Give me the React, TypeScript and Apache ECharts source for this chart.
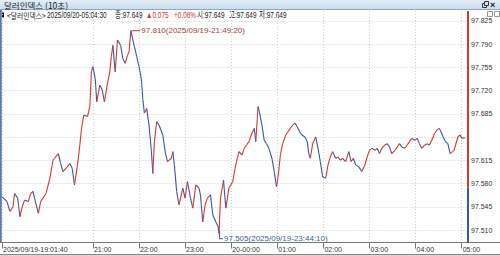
import React, { useEffect, useRef } from "react";
import * as echarts from "echarts";

const tradeDate = "2025/09/19";
const titleText = "달러인덱스 (10초)";
const instrument = "<달러인덱스>";
const lastStamp = "2025/09/20-05:04:30";
const prevClose = 97.574;

const times = [
  "19:01:40", "19:08", "19:12", "19:16", "19:18", "19:22", "19:25", "19:28", "19:31", "19:36", "19:39", "19:42", "19:44", "19:49", "19:52", "19:55", "19:59",
  "20:04", "20:08", "20:10", "20:15", "20:18", "20:21", "20:25", "20:30", "20:33", "20:36", "20:40", "20:43", "20:45", "20:48", "20:53", "20:56", "20:58",
  "21:00", "21:03", "21:05", "21:09", "21:12", "21:15", "21:19", "21:22", "21:24", "21:26", "21:29", "21:32", "21:36", "21:39", "21:42", "21:45", "21:47", "21:49:20", "21:54", "21:57",
  "22:00", "22:03", "22:05", "22:07", "22:10", "22:13", "22:16", "22:18", "22:20", "22:23", "22:26", "22:31", "22:34", "22:37", "22:42", "22:44", "22:46", "22:49", "22:52", "22:57",
  "23:00", "23:03", "23:07", "23:10", "23:14", "23:18", "23:20", "23:23", "23:26", "23:29", "23:33", "23:36", "23:40", "23:43", "23:44:10", "23:46", "23:50", "23:53", "23:57",
  "00:02", "00:05", "00:08", "00:10", "00:14", "00:17", "00:20", "00:23", "00:27", "00:30", "00:32", "00:35", "00:37", "00:40", "00:43", "00:46", "00:49", "00:53", "00:56", "00:59",
  "01:01", "01:04", "01:07", "01:11", "01:14", "01:17", "01:20", "01:23", "01:26", "01:29", "01:32", "01:36", "01:39", "01:41", "01:43", "01:46", "01:50", "01:53", "01:56", "01:59",
  "02:03", "02:06", "02:09", "02:12", "02:16", "02:19", "02:22", "02:25", "02:29", "02:33", "02:36", "02:39", "02:42", "02:46", "02:50", "02:54", "02:57",
  "03:00", "03:03", "03:07", "03:10", "03:13", "03:16", "03:20", "03:23", "03:26", "03:29", "03:33", "03:36", "03:39", "03:42", "03:46", "03:49", "03:52", "03:55", "03:59",
  "04:02", "04:05", "04:08", "04:12", "04:15", "04:18", "04:21", "04:25", "04:28", "04:31", "04:33", "04:36", "04:39", "04:42", "04:45", "04:48", "04:50", "04:52", "04:55", "04:58",
  "05:00", "05:04:30",
];

const closes = [
  97.560, 97.553, 97.538, 97.545, 97.565, 97.558, 97.530, 97.545, 97.555, 97.553, 97.565, 97.568, 97.558, 97.535, 97.553, 97.558, 97.565,
  97.588, 97.615, 97.618, 97.625, 97.610, 97.598, 97.603, 97.610, 97.603, 97.578, 97.608, 97.638, 97.661, 97.683, 97.681, 97.696, 97.748,
  97.756, 97.738, 97.703, 97.728, 97.721, 97.703, 97.731, 97.748, 97.771, 97.788, 97.748, 97.796, 97.788, 97.768, 97.761, 97.773, 97.778, 97.810, 97.786, 97.771,
  97.756, 97.738, 97.706, 97.686, 97.693, 97.668, 97.630, 97.595, 97.643, 97.673, 97.668, 97.653, 97.628, 97.613, 97.618, 97.628, 97.608, 97.568, 97.548, 97.573,
  97.558, 97.583, 97.558, 97.543, 97.578, 97.573, 97.563, 97.522, 97.548, 97.558, 97.563, 97.533, 97.522, 97.515, 97.505, 97.558, 97.585, 97.543, 97.573,
  97.583, 97.603, 97.618, 97.628, 97.623, 97.633, 97.638, 97.643, 97.656, 97.663, 97.643, 97.696, 97.686, 97.668, 97.645, 97.640, 97.633, 97.618, 97.598, 97.575,
  97.590, 97.623, 97.640, 97.653, 97.658, 97.663, 97.668, 97.671, 97.665, 97.658, 97.653, 97.650, 97.643, 97.625, 97.618, 97.640, 97.650, 97.633, 97.613, 97.590,
  97.588, 97.608, 97.620, 97.628, 97.618, 97.620, 97.615, 97.618, 97.613, 97.628, 97.613, 97.618, 97.608, 97.605, 97.598, 97.608, 97.620,
  97.630, 97.633, 97.630, 97.633, 97.625, 97.633, 97.638, 97.640, 97.635, 97.625, 97.630, 97.635, 97.640, 97.635, 97.633, 97.638, 97.643, 97.648, 97.645,
  97.648, 97.640, 97.633, 97.638, 97.640, 97.638, 97.645, 97.656, 97.661, 97.663, 97.658, 97.650, 97.643, 97.640, 97.625, 97.628, 97.630, 97.638, 97.650, 97.653,
  97.648, 97.649,
];

const tickTimes = ["19:01:40", "21:00", "22:00", "23:00", "00:00", "01:00", "02:00", "03:00", "04:00", "05:00"];
const tickLabels = ["2025/09/19-19:01:40", "21:00", "22:00", "23:00", "20-00:00", "01:00", "02:00", "03:00", "04:00", "05:00"];
const priceTicks = [97.51, 97.545, 97.58, 97.615, 97.65, 97.685, 97.72, 97.755, 97.79, 97.825];
const priceLabels = [97.51, 97.545, 97.58, 97.615, 97.685, 97.72, 97.755, 97.79, 97.825];

const UP = "#d4392e";
const DOWN = "#3658a6";
const LAT = "'Liberation Sans', Arial, 'Noto Sans CJK KR', sans-serif";
const KR = "'Noto Sans CJK KR', 'Liberation Sans', sans-serif";

function toMin(t: string): number {
  const [h, m, s = 0] = t.split(":").map(Number);
  const hh = h < 19 ? h + 24 : h;
  return (hh - 19) * 60 + m + s / 60;
}

export default function App() {
  const ref = useRef<HTMLDivElement>(null);

  useEffect(() => {
    if (!ref.current) return;
    const chart = echarts.init(ref.current, undefined, { renderer: "svg" });

    const xMin = 1.0;
    const xMax = 608.2;
    const yMin = 97.4912;
    const yMax = 97.8397;

    const segData = times.map((t, i) => [
      toMin(i > 0 ? times[i - 1] : t),
      toMin(t),
      i > 0 ? closes[i - 1] : closes[i],
      closes[i],
    ]);
    const lineData = times.map((t, i) => [toMin(t), closes[i]]);

    let maxI = 0, minI = 0;
    closes.forEach((v, i) => {
      if (v > closes[maxI]) maxI = i;
      if (v < closes[minI]) minI = i;
    });
    const last = closes[closes.length - 1];
    const change = last - prevClose;
    const pct = (change / prevClose) * 100;
    const lastStr = last.toFixed(3);

    const tickMins = tickTimes.map(toMin);
    const labelFor = (v: number) => {
      let best = 0;
      tickMins.forEach((m, i) => {
        if (Math.abs(m - v) < Math.abs(tickMins[best] - v)) best = i;
      });
      return tickLabels[best];
    };

    const header = [
      { x: 7, text: instrument, color: "#222", font: KR, size: 8.5, sx: 0.8 },
      { x: 47, text: lastStamp, color: "#222", font: LAT, size: 9, sx: 0.72 },
      { x: 115, text: "종:" + lastStr, color: "#222", font: LAT, size: 9, sx: 0.72 },
      { x: 146, text: "▲" + change.toFixed(3), color: UP, font: LAT, size: 9, sx: 0.72 },
      { x: 174, text: "+" + pct.toFixed(2) + "%", color: UP, font: LAT, size: 9, sx: 0.72 },
      { x: 197, text: "시:" + lastStr, color: "#222", font: LAT, size: 9, sx: 0.72 },
      { x: 229, text: "고:" + lastStr, color: "#222", font: LAT, size: 9, sx: 0.72 },
      { x: 259, text: "저:" + lastStr, color: "#222", font: LAT, size: 9, sx: 0.72 },
    ];

    chart.setOption({
      animation: false,
      backgroundColor: "#ffffff",
      grid: { left: 0, right: 32, top: 11, bottom: 13.5, containLabel: false },
      xAxis: {
        type: "value",
        min: xMin,
        max: xMax,
        axisLine: { show: false },
        axisTick: {
          show: true,
          length: 6,
          customValues: tickMins,
          lineStyle: { color: "#777", width: 1 },
        },
        axisLabel: {
          customValues: tickMins,
          formatter: (v: number) => labelFor(v),
          align: "left",
          margin: 3,
          padding: [0, 0, 0, 1],
          fontSize: 7,
          fontFamily: LAT,
          color: "#333",
        },
        splitLine: { show: true, lineStyle: { color: "#cfcfcf", type: [1, 2], width: 1 } },
      },
      yAxis: {
        type: "value",
        position: "right",
        min: yMin,
        max: yMax,
        axisLine: { show: false },
        axisTick: { show: false, customValues: priceTicks },
        axisLabel: {
          customValues: priceLabels,
          formatter: (v: number) => v.toFixed(3),
          margin: 3,
          fontSize: 7,
          fontFamily: LAT,
          color: "#333",
        },
        splitLine: { show: true, lineStyle: { color: "#cfcfcf", type: [1, 2], width: 1 } },
      },
      series: [
        {
          type: "custom",
          name: "ticks",
          data: segData,
          encode: { x: [0, 1], y: [2, 3] },
          silent: true,
          renderItem: (_params: any, api: any) => {
            const t0 = api.value(0);
            const t1 = api.value(1);
            const o = api.value(2);
            const c = api.value(3);
            const p1 = api.coord([t0, o]);
            const p2 = api.coord([t1, c]);
            return {
              type: "line",
              shape: { x1: p1[0], y1: p1[1], x2: p2[0], y2: p2[1] },
              style: { stroke: c >= o ? UP : DOWN, lineWidth: 1.1 },
            };
          },
        },
        {
          type: "line",
          name: "marks",
          data: lineData,
          symbol: "none",
          silent: true,
          clip: false,
          lineStyle: { opacity: 0 },
          z: 5,
          markPoint: {
            silent: true,
            data: [
              {
                coord: [toMin(times[maxI]), closes[maxI]],
                symbol: "rect",
                symbolSize: [9, 1],
                symbolOffset: [5, 0],
                itemStyle: { color: "#a3413c" },
                label: {
                  show: true,
                  position: "right",
                  distance: 1,
                  formatter: `${closes[maxI].toFixed(3)}(${tradeDate}-${times[maxI]})`,
                  color: "#a3413c",
                  fontSize: 8,
                  fontFamily: LAT,
                },
              },
              {
                coord: [toMin(times[minI]), closes[minI]],
                symbol: "path://M0,0 L1,0 L1,7 L4,7 L4,8 L0,8 Z",
                symbolSize: [4, 8],
                symbolOffset: [2, 2],
                itemStyle: { color: "#3d5f95" },
                label: {
                  show: true,
                  position: "right",
                  distance: 1,
                  offset: [0, 3],
                  formatter: `${closes[minI].toFixed(3)}(${tradeDate}-${times[minI]})`,
                  color: "#3d5f95",
                  fontSize: 8,
                  fontFamily: LAT,
                },
              },
            ],
          },
          markLine: {
            silent: true,
            symbol: ["none", "none"],
            data: [
              [
                { coord: [xMax, yMax], lineStyle: { color: UP, width: 2, type: "solid" }, label: { show: false } },
                { coord: [xMax, prevClose] },
              ],
              [
                { coord: [xMax, prevClose], lineStyle: { color: DOWN, width: 2, type: "solid" }, label: { show: false } },
                { coord: [xMax, yMin] },
              ],
              {
                yAxis: last,
                lineStyle: { opacity: 0 },
                label: {
                  show: true,
                  position: "end",
                  distance: 1,
                  formatter: `${lastStr}\n+${pct.toFixed(2)}%`,
                  backgroundColor: UP,
                  color: "#ffffff",
                  fontSize: 7,
                  lineHeight: 7,
                  padding: [0, 3, 0, 4],
                  fontFamily: LAT,
                  align: "left",
                },
              },
            ],
          },
        },
      ],
      graphic: [
        {
          type: "rect",
          shape: { x: 0, y: 0, width: 500, height: 10 },
          style: {
            fill: new echarts.graphic.LinearGradient(0, 0, 0, 1, [
              { offset: 0, color: "#e3edf7" },
              { offset: 1, color: "#c9dbed" },
            ]),
          },
          silent: true,
        },
        { type: "line", shape: { x1: 0, y1: 9.5, x2: 500, y2: 9.5 }, style: { stroke: "#8fa8c4", lineWidth: 1 }, silent: true },
        {
          type: "text",
          x: 4,
          y: 5,
          style: { text: titleText, fill: "#222", font: `8.5px ${KR}`, textVerticalAlign: "middle" },
          silent: true,
        },
        { type: "rect", shape: { x: 482.5, y: 3.5, width: 4, height: 4 }, style: { fill: "none", stroke: "#333", lineWidth: 1 }, silent: true },
        { type: "rect", shape: { x: 484.5, y: 1.5, width: 4, height: 4 }, style: { fill: "#d6e4f1", stroke: "#333", lineWidth: 1 }, silent: true },
        {
          type: "text",
          x: 490,
          y: 5,
          style: { text: "×", fill: "#222", font: `bold 9px ${LAT}`, textVerticalAlign: "middle" },
          silent: true,
        },
        { type: "rect", shape: { x: 0, y: 10, width: 1.8, height: 233 }, style: { fill: "#5a7cb6" }, silent: true },
        { type: "rect", shape: { x: 2, y: 12.5, width: 2, height: 5 }, style: { fill: "#111" }, silent: true },
        ...header.map((h) => ({
          type: "text",
          x: h.x,
          y: 15,
          scaleX: h.sx,
          style: { text: h.text, fill: h.color, font: `${h.size}px ${h.font}`, textVerticalAlign: "middle" },
          silent: true,
        })),
        { type: "rect", shape: { x: 487.5, y: 11.5, width: 5, height: 5 }, style: { fill: "#fff", stroke: "#999", lineWidth: 1 }, silent: true },
        { type: "rect", shape: { x: 494.5, y: 11.5, width: 5, height: 5 }, style: { fill: "#fff", stroke: "#999", lineWidth: 1 }, silent: true },
        { type: "line", shape: { x1: 0, y1: 242.5, x2: 500, y2: 242.5 }, style: { stroke: "#777", lineWidth: 1 }, silent: true },
        { type: "line", shape: { x1: 0, y1: 254.5, x2: 500, y2: 254.5 }, style: { stroke: "#888", lineWidth: 1 }, silent: true },
        { type: "rect", shape: { x: 0, y: 255, width: 500, height: 1 }, style: { fill: "#d8d8d8" }, silent: true },
      ],
    });

    return () => chart.dispose();
  }, []);

  return <div ref={ref} style={{ width: 500, height: 256, position: "fixed", left: 0, top: 0 }} />;
}
